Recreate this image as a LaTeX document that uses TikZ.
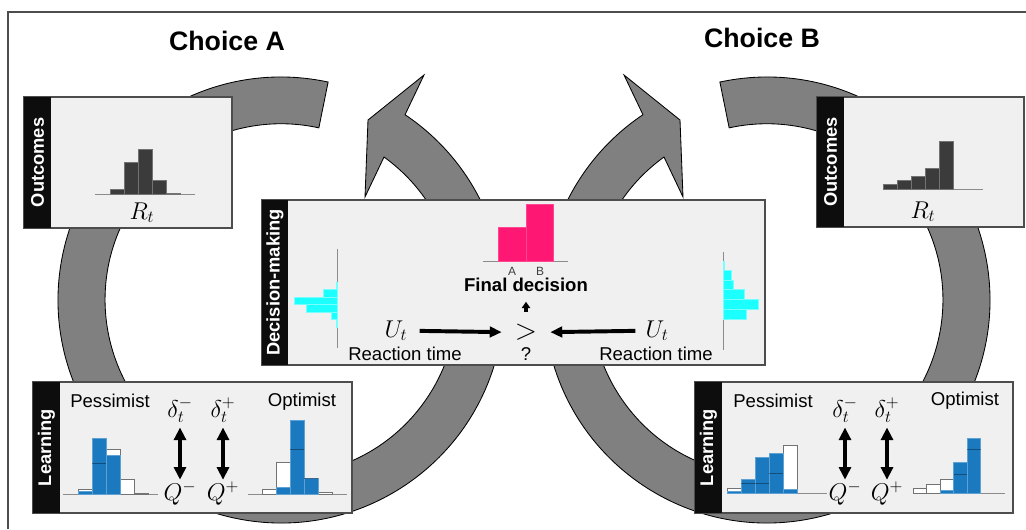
\documentclass[tikz,border=0pt]{standalone}
\usepackage{amsmath}
\usepackage{amssymb}
\usepackage{fontspec}
\setmainfont{Liberation Sans}
\usetikzlibrary{arrows.meta}

\definecolor{ringgray}{HTML}{808080}
\definecolor{panelbg}{HTML}{F0F0F0}
\definecolor{panelline}{HTML}{4D4D4D}
\definecolor{histdark}{HTML}{3B3B3B}
\definecolor{decpink}{HTML}{FF1873}
\definecolor{rtcyan}{HTML}{1CFFFF}
\definecolor{learnblue}{HTML}{1B79C0}

\begin{document}
\begin{tikzpicture}
[x=0.025cm,y=-0.025cm,
ring/.style={fill=ringgray,draw=black,line width=0.6pt},
panel/.style={fill=panelbg,draw=panelline,line width=0.8pt},
tab/.style={fill=black!95},
tablabel/.style={text=white,rotate=90,font=\fontsize{13}{15}\selectfont\bfseries},
title/.style={anchor=base,font=\fontsize{19}{22}\selectfont\bfseries},
txt/.style={anchor=base,inner sep=1pt,font=\fontsize{13.2}{15}\selectfont},
mth/.style={anchor=base,inner sep=1pt,font=\fontsize{17.5}{20}\selectfont},
axisline/.style={draw=black!45,line width=0.5pt},
darkbar/.style={fill=histdark,draw=black!55,line width=0.3pt},
pinkbar/.style={fill=decpink,draw=decpink!80!white,line width=0.3pt},
cyanbar/.style={fill=rtcyan,draw=rtcyan!60!white,line width=0.3pt},
outbar/.style={fill=white,draw=black!55,line width=0.5pt},
bluebar/.style={fill=learnblue,draw=learnblue!70!white,line width=0.3pt},
stepline/.style={draw=black,draw opacity=0.35,line width=0.5pt},
fatarrow/.style={line width=2.8pt,-{Triangle[length=8.5pt,width=7.5pt]}},
smallarrow/.style={line width=2.5pt,-{Triangle[length=4.5pt,width=6pt]}},
twoarrow/.style={line width=2.6pt,{Triangle[length=9pt,width=8.5pt]}-{Triangle[length=9pt,width=8.5pt]}}]
\useasboundingbox (0,0) rectangle (1026,529);

% frame
\draw[panelline,line width=1.1pt] (8,529) -- (8,12) -- (1026,12);

% the two circular arrows, B is A mirrored
\foreach \s/\m in {0/1,1048/-1}{
\begin{scope}[shift={(\s,0)},xscale=\m]
\path[ring] (281,300) ++(-77.8:223) arc[start angle=-77.8,end angle=-416.2,radius=223]
  -- (424,75) -- (368,120) -- (365,197) -- (384,157)
  arc[start angle=-414.2,end angle=-77.6,radius=176] -- cycle;
\end{scope}}

\node[title] (choiceA) at (227,50) {Choice A};
\node[title] (choiceB) at (762,47) {Choice B};

% outcomes
\draw[panel] (24,97) rectangle (232,228);
\fill[tab] (24,97) rectangle (51,228);
\node[tablabel] (outA) at (37.5,162.5) {Outcomes};
\draw[axisline] (95,194) -- (195,194);
\foreach \x/\t in {110/189,124/162,138/149,152/180,166/193}
  \filldraw[darkbar] (\x,\t) rectangle (\x+14,194);
\node[mth] (rewA) at (142,219) {$R_t$};

\draw[panel] (817,97) rectangle (1024,227);
\fill[tab] (817,97) rectangle (844,227);
\node[tablabel] (outB) at (830.5,162) {Outcomes};
\draw[axisline] (883,189) -- (983,189);
\foreach \x/\t in {883/184,897/180,911/176,925/168,939/141}
  \filldraw[darkbar] (\x,\t) rectangle (\x+14.5,189);
\node[mth] (rewB) at (923,218) {$R_t$};

% decision-making
\draw[panel] (262,200) rectangle (765,365);
\fill[tab] (262,200) rectangle (288,365);
\node[tablabel] (decide) at (275,282.5) {Decision-making};
\draw[axisline] (483,261) -- (568,261);
\filldraw[pinkbar] (498,227) rectangle (526,261);
\filldraw[pinkbar] (526,204) rectangle (553,261);
\node[anchor=base,inner sep=1pt,text=black!75,font=\fontsize{8.5}{10}\selectfont] (optA) at (512,275) {A};
\node[anchor=base,inner sep=1pt,text=black!75,font=\fontsize{8.5}{10}\selectfont] (optB) at (540,275) {B};
\node[txt,font=\fontsize{13.2}{15}\selectfont\bfseries] (final) at (526,291.5) {Final decision};
\draw[axisline] (337,249) -- (337,348);
\foreach \a/\b/\l in {282/289/336,289/297/323,297/304/294,304/312/306,312/319/331,319/327/336}
  \filldraw[cyanbar] (\l,\a) rectangle (337,\b);
\draw[axisline] (723,252) -- (723,350);
\foreach \a/\b/\r in {261/270/724,270/280/731,280/289/733,289/299/744,299/309/758,309/319/746}
  \filldraw[cyanbar] (723,\a) rectangle (\r,\b);
\node[mth] (utA) at (396,337) {$U_t$};
\node[mth] (utB) at (657,337) {$U_t$};
\node[inner sep=1pt,font=\fontsize{20}{22}\selectfont] (cmp) at (526,332.5) {$>$};
\node[txt] (ask) at (526,360) {?};
\node[txt] (rtA) at (405,360) {Reaction time};
\node[txt] (rtB) at (656,360) {Reaction time};
\draw[fatarrow,shorten <=7.5pt,shorten >=8.2pt] (utA) -- (cmp);
\draw[fatarrow,shorten <=6pt,shorten >=8.2pt] (utB) -- (cmp);
\draw[smallarrow,shorten <=7.8pt,shorten >=6pt] (cmp) -- (final);

% learning, choice A
\draw[panel] (33,382) rectangle (352,513);
\fill[tab] (33,382) rectangle (60,513);
\node[tablabel] (learnA) at (46.5,447.5) {Learning};
\node[txt] (pessA) at (110,407) {Pessimist};
\node[txt] (optiA) at (302,406) {Optimist};
\node[mth] (dmA) at (180,417) {$\delta_t^-$};
\node[mth] (dpA) at (223,417) {$\delta_t^+$};
\node[mth] (qmA) at (180,500) {$Q^-$};
\node[mth] (qpA) at (223,500) {$Q^+$};
\draw[twoarrow,shorten <=2pt,shorten >=0pt] (dmA) -- (qmA);
\draw[twoarrow,shorten <=2pt,shorten >=0pt] (dpA) -- (qpA);
\draw[axisline] (63,494) -- (158,494);
\draw[axisline] (248,494) -- (347,494);
\foreach \x/\t in {78/489,92/463,106/449,120/479,134/493,262/489,276/462,290/449,304/478,318/492}
  \filldraw[outbar] (\x,\t) rectangle (\x+14,494);
\foreach \x/\t in {78/491,92/438,106/455,276/487,290/420,304/478}
  \filldraw[bluebar] (\x,\t) rectangle (\x+14,494);
\foreach \x/\t in {92/463,290/449,304/478}
  \draw[stepline] (\x,\t) -- (\x+14,\t);

% learning, choice B
\draw[panel] (695,382) rectangle (1013,513);
\fill[tab] (695,382) rectangle (722,513);
\node[tablabel] (learnB) at (708.5,447.5) {Learning};
\node[txt] (pessB) at (773,407) {Pessimist};
\node[txt] (optiB) at (965,405) {Optimist};
\node[mth] (dmB) at (845,417) {$\delta_t^-$};
\node[mth] (dpB) at (887,417) {$\delta_t^+$};
\node[mth] (qmB) at (845,500) {$Q^-$};
\node[mth] (qpB) at (887,500) {$Q^+$};
\draw[twoarrow,shorten <=2pt,shorten >=0pt] (dmB) -- (qmB);
\draw[twoarrow,shorten <=2pt,shorten >=0pt] (dpB) -- (qpB);
\draw[axisline] (727,493) -- (827,493);
\draw[axisline] (913,493) -- (1005,493);
\foreach \x/\t/\w in {727/488/14,741/483/14,755/483/14,769/473/14,783/445/14,913/488/13.5,926.5/484/13.5,940/479/13.5,953.5/474/13.5,967/449/13.5}
  \filldraw[outbar] (\x,\t) rectangle (\x+\w,493);
\foreach \x/\t/\w in {727/491/14,741/479/14,755/457/14,769/453/14,783/489/14,940/490/13.5,953.5/462/13.5,967/438/13.5}
  \filldraw[bluebar] (\x,\t) rectangle (\x+\w,493);
\foreach \x/\t/\w in {741/483/14,755/483/14,769/473/14,953.5/474/13.5,967/449/13.5}
  \draw[stepline] (\x,\t) -- (\x+\w,\t);
\end{tikzpicture}
\end{document}
